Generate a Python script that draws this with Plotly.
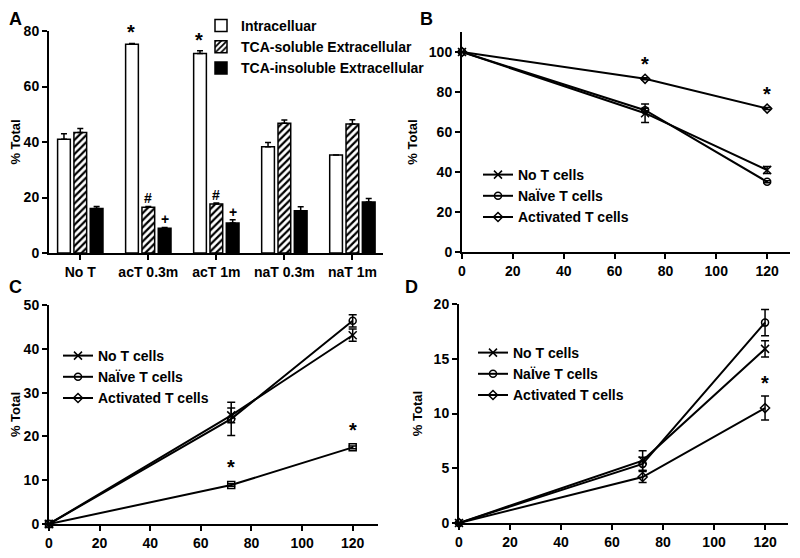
import plotly.graph_objects as go

# ---------------- data ----------------
categories = ["No T", "acT 0.3m", "acT 1m", "naT 0.3m", "naT 1m"]
intra = [41.0, 75.2, 71.9, 38.3, 35.3]
intra_err = [2.0, 0.3, 1.0, 1.5, 0.0]
sol = [43.4, 16.5, 17.7, 46.8, 46.5]
sol_err = [1.5, 0.3, 0.3, 1.1, 1.5]
insol = [16.0, 8.9, 10.8, 15.2, 18.4]
insol_err = [0.8, 0.3, 1.2, 1.5, 1.2]

time = [0, 72, 120]
b_no = [100, 69.4, 41.0]
b_no_err = [0, 4.6, 1.8]
b_na = [100, 70.9, 35.1]
b_na_err = [0, 1.0, 0.5]
b_ac = [100, 86.6, 71.7]
b_ac_err = [0, 0.5, 0.5]

c_no = [0, 24.8, 43.1]
c_no_err = [0, 1.7, 1.4]
c_na = [0, 24.0, 46.4]
c_na_err = [0, 3.8, 1.4]
c_ac = [0, 8.9, 17.5]
c_ac_err = [0, 0.3, 0.3]

d_no = [0, 5.7, 15.9]
d_no_err = [0, 0.9, 0.75]
d_na = [0, 5.4, 18.3]
d_na_err = [0, 0.6, 1.2]
d_ac = [0, 4.2, 10.5]
d_ac_err = [0, 0.5, 1.1]

series_names = ["No T cells", "Na\u00cfve T cells", "Activated T cells"]
bar_names = ["Intracelluar", "TCA-soluble Extracellular", "TCA-insoluble Extracellular"]
panel_letters = ["A", "B", "C", "D"]

FONT = "Liberation Sans, Arial, sans-serif"
BLACK = "black"
OFF = 8            # default page body margin
W, H = 800 - 2 * OFF, 558 - 2 * OFF   # figure fits the window without scrollbars


def px(x):
    return (x - OFF) / W


def py(y):
    return 1 - (y - OFF) / H


fig = go.Figure()

# ---------------- Panel A: bars ----------------
def add_bar(name, vals, errs, fill, pattern=None):
    fig.add_trace(go.Bar(
        x=categories, y=vals, name=name,
        marker=dict(color=fill, line=dict(color=BLACK, width=1.5),
                    pattern=pattern if pattern else {}),
        error_y=dict(type="data", symmetric=False, array=errs,
                     arrayminus=[0] * len(errs), color=BLACK,
                     thickness=1.5, width=3),
        xaxis="x", yaxis="y", legend="legend",
    ))

add_bar(bar_names[0], intra, intra_err, "white")
add_bar(bar_names[1], sol, sol_err, "white",
        dict(shape="/", fgcolor=BLACK, bgcolor="white", size=5, solidity=0.45))
add_bar(bar_names[2], insol, insol_err, BLACK)

# ---------------- line panels ----------------
symbols = ["x-thin-open", "circle-open", "diamond-open"]
msizes = [8, 7, 7]

def add_lines(xa, ya, leg, data, symbols_override=None):
    for i, (vals, errs) in enumerate(data):
        sym = symbols[i]
        if symbols_override and symbols_override[i]:
            sym = symbols_override[i]
        show = not (symbols_override and symbols_override[i])
        fig.add_trace(go.Scatter(
            x=time, y=vals, mode="lines+markers", name=series_names[i],
            line=dict(color=BLACK, width=2),
            marker=dict(symbol=sym, size=msizes[i], color=BLACK,
                        line=dict(color=BLACK, width=1.5)),
            error_y=dict(type="data", array=errs, color=BLACK,
                         thickness=1.5, width=4),
            xaxis=xa, yaxis=ya, legend=leg, showlegend=show,
            cliponaxis=False,
        ))
        if not show:
            fig.add_trace(go.Scatter(
                x=[None], y=[None], mode="lines+markers", name=series_names[i],
                line=dict(color=BLACK, width=2),
                marker=dict(symbol=symbols[i], size=msizes[i], color=BLACK,
                            line=dict(color=BLACK, width=1.5)),
                xaxis=xa, yaxis=ya, legend=leg,
            ))

add_lines("x2", "y2", "legend2",
          [(b_no, b_no_err), (b_na, b_na_err), (b_ac, b_ac_err)])
add_lines("x3", "y3", "legend3",
          [(c_no, c_no_err), (c_na, c_na_err), (c_ac, c_ac_err)],
          symbols_override=[None, None, "square-open"])
add_lines("x4", "y4", "legend4",
          [(d_no, d_no_err), (d_na, d_na_err), (d_ac, d_ac_err)])

# ---------------- axes ----------------
tickfont = dict(family=FONT, size=14, color=BLACK, weight="bold")
axis_common = dict(showline=True, linewidth=2, linecolor=BLACK,
                   ticks="outside", ticklen=5, tickwidth=2, tickcolor=BLACK,
                   showgrid=False, zeroline=False, tickfont=tickfont,
                   automargin=False)
ytitle = dict(text="% Total", font=dict(family=FONT, size=13, color=BLACK, weight="bold"),
              standoff=8)

fig.update_layout(
    template="none",
    width=W, height=H,
    margin=dict(l=0, r=0, t=0, b=0, autoexpand=False),
    paper_bgcolor="white", plot_bgcolor="white",
    barmode="group", bargap=0.28, bargroupgap=0.22,
    font=dict(family=FONT, size=14, color=BLACK, weight="bold"),
    xaxis=dict(domain=[px(49), px(383)], anchor="y", type="category",
               range=[-0.46, 4.45], **axis_common),
    yaxis=dict(domain=[py(253), py(31)], anchor="x", range=[0, 80], dtick=20,
               title=ytitle, **axis_common),
    xaxis2=dict(domain=[px(462), px(790)], anchor="y2", range=[0, 129], dtick=20,
                **axis_common),
    yaxis2=dict(domain=[py(252), py(32)], anchor="x2", range=[0, 110], dtick=20,
                title=ytitle, **axis_common),
    xaxis3=dict(domain=[px(49), px(378)], anchor="y3", range=[0, 130], dtick=20,
                **axis_common),
    yaxis3=dict(domain=[py(524), py(305)], anchor="x3", range=[0, 50], dtick=10,
                title=ytitle, **axis_common),
    xaxis4=dict(domain=[px(459), px(788)], anchor="y4", range=[0, 129], dtick=20,
                **axis_common),
    yaxis4=dict(domain=[py(523), py(304)], anchor="x4", range=[0, 20], dtick=5,
                title=ytitle, **axis_common),
)

legend_font = dict(family=FONT, size=14, color=BLACK, weight="bold")
leg_common = dict(bgcolor="rgba(0,0,0,0)", font=legend_font, xanchor="left",
                  yanchor="top", tracegroupgap=0, itemclick=False)
fig.update_layout(
    legend=dict(x=px(201), y=py(10), **leg_common),
    legend2=dict(x=px(478), y=py(159), **leg_common),
    legend3=dict(x=px(58), y=py(340), **leg_common),
    legend4=dict(x=px(473), y=py(337), **leg_common),
)

# ---------------- annotations ----------------
annots = []
def mark(txt, xref, yref, x, y, xshift=0, size=18):
    annots.append(dict(text=txt, x=x, y=y, xref=xref, yref=yref, showarrow=False,
                       yanchor="bottom", xshift=xshift, yshift=-2,
                       font=dict(family=FONT, size=size, color=BLACK, weight="bold")))

for idx in [1, 2]:
    mark("*", "x", "y", categories[idx], intra[idx] + intra_err[idx], xshift=-17, size=20)
    mark("#", "x", "y", categories[idx], sol[idx] + sol_err[idx], xshift=0, size=14)
    mark("+", "x", "y", categories[idx], insol[idx] + insol_err[idx], xshift=17, size=14)

for i in [1, 2]:
    mark("*", "x2", "y2", time[i], b_ac[i] + 2, size=20)
    mark("*", "x3", "y3", time[i], c_ac[i] + 1.5, size=20)
mark("*", "x4", "y4", time[2], d_ac[2] + d_ac_err[2] + 0.2, size=20)

# panel letters: (left edge x, top y) in window pixels
letter_pos = [(8, 8), (419, 8), (8, 276), (404, 276)]
for letter, (lx, ly) in zip(panel_letters, letter_pos):
    annots.append(dict(text=letter, x=px(lx), y=py(ly), xref="paper", yref="paper",
                       showarrow=False, xanchor="left", yanchor="top",
                       borderpad=0,
                       font=dict(family=FONT, size=18, color=BLACK, weight="bold")))

fig.update_layout(annotations=annots)

fig.write_html("out.html")
